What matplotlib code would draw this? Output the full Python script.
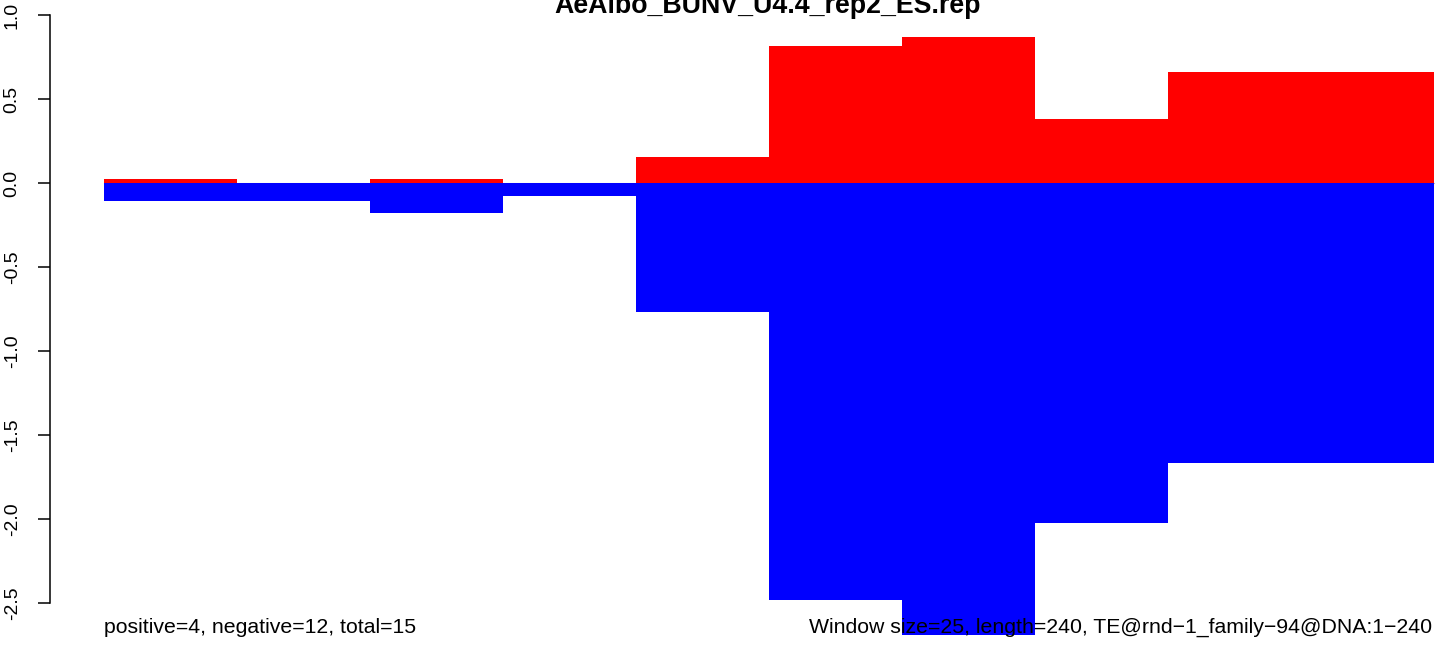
import matplotlib
matplotlib.use("Agg")
import matplotlib.pyplot as plt

# window starts (bp), window size 25
window_starts = [0, 25, 50, 75, 100, 125, 150, 175, 200, 225]
window_size = 25
positive = [0.024, 0.0, 0.024, 0.0, 0.155, 0.815, 0.869, 0.381, 0.661, 0.661]
negative = [-0.107, -0.107, -0.18, -0.075, -0.768, -2.48, -2.69, -2.022, -1.667, -1.667]
yticks = [-2.5, -2.0, -1.5, -1.0, -0.5, 0.0, 0.5, 1.0]

title = "AeAlbo_BUNV_U4.4_rep2_ES.rep"
left_note = "positive=4, negative=12, total=15"
right_note = "Window size=25, length=240, TE@rnd\u22121_family\u221294@DNA:1\u2212240"

plt.rcParams['font.family'] = ['Liberation Sans', 'DejaVu Sans']

W, H = 1436, 656
fig = plt.figure(figsize=(W / 100, H / 100), dpi=100)
ax = fig.add_axes([0, 0, 1, 1])

# pixel mapping: x=0 at px 104, 25 units per 133 px; y=0 at px 183, 168 px per unit
xs = 133 / 25.0
ax.set_xlim(-104 / xs, (W - 104) / xs)
ax.set_ylim(-(H - 183) / 168.0, 183 / 168.0)

ax.plot([0, 250], [0, 0], color='#bbbbbb', lw=0.8, zorder=1)
ax.bar(window_starts, positive, width=window_size, align='edge', color='#ff0000', linewidth=0, zorder=2)
ax.bar(window_starts, negative, width=window_size, align='edge', color='#0000ff', linewidth=0, zorder=2)

for s in ['top', 'right', 'bottom']:
    ax.spines[s].set_visible(False)
ax.spines['left'].set_position(('data', (50 - 104) / xs))
ax.spines['left'].set_bounds(-2.5, 1.0)
ax.spines['left'].set_linewidth(1.1)
ax.set_xticks([])
ax.set_yticks(yticks)
ax.set_yticklabels([f"{v:.1f}" for v in yticks], rotation=90, va='center')
ax.tick_params(axis='y', direction='out', length=8.6, width=1.1, pad=12.5, labelsize=14)
ax.patch.set_alpha(0)

fig.text(768 / W, 1 - 13 / H, title, ha='center', va='baseline', fontsize=19.3, fontweight='bold')
fig.text(104 / W, 1 - 633 / H, left_note, ha='left', va='baseline', fontsize=15.3)
fig.text(1432 / W, 1 - 633 / H, right_note, ha='right', va='baseline', fontsize=15.3, zorder=5)

fig.savefig("out.png", dpi=100)
